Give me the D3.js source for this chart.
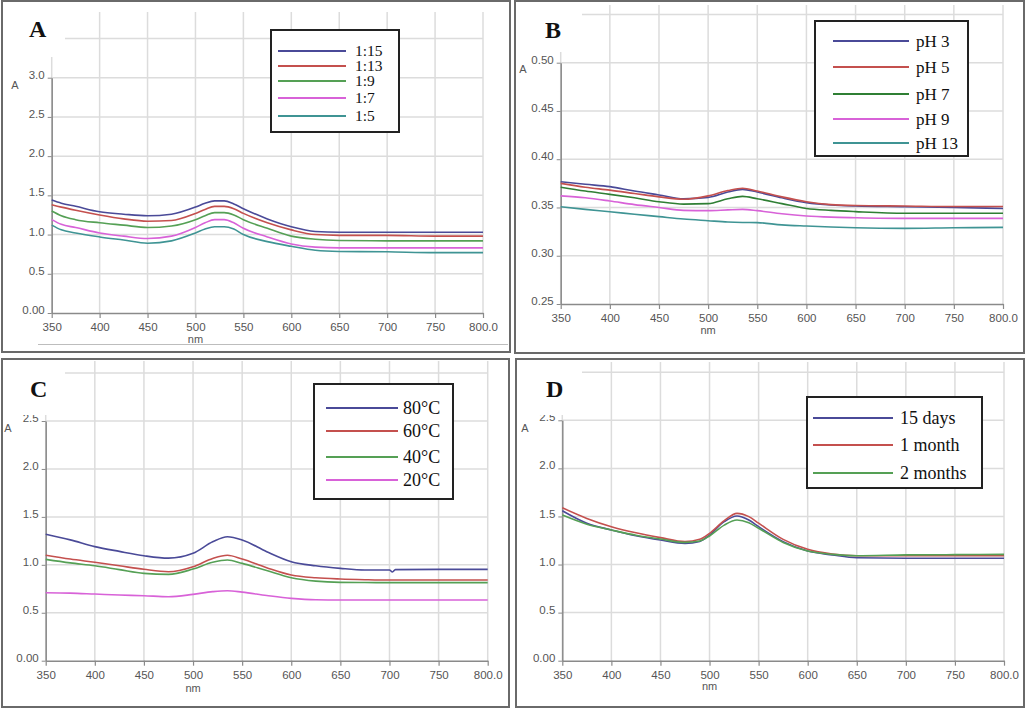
<!DOCTYPE html>
<html><head><meta charset="utf-8">
<script src="https://cdn.jsdelivr.net/npm/d3@7/dist/d3.min.js"></script>
<style>body{margin:0;background:#fff}svg{display:block}</style>
</head><body>
<svg id="chart" width="1028" height="709"></svg>
<script>
// ---------- shared tick data ----------
const xTicks = [350,400,450,500,550,600,650,700,750,800];
const xTickLabels = ["350","400","450","500","550","600","650","700","750","800.0"];

// ---------- Panel A ----------
const wlA = [350,360,375,400,425,450,475,500,510,520,530,540,550,575,600,625,650,700,750,800];
const namesA = ["1:15","1:13","1:9","1:7","1:5"];
const a115 = [1.44,1.40,1.36,1.29,1.26,1.24,1.26,1.35,1.40,1.43,1.43,1.39,1.33,1.20,1.10,1.04,1.03,1.03,1.03,1.03];
const a113 = [1.38,1.35,1.31,1.25,1.20,1.17,1.18,1.27,1.32,1.36,1.36,1.33,1.27,1.15,1.06,1.00,0.99,0.99,0.98,0.98];
const a19  = [1.30,1.24,1.19,1.15,1.12,1.09,1.11,1.19,1.24,1.28,1.28,1.25,1.19,1.08,0.98,0.94,0.925,0.92,0.92,0.92];
const a17  = [1.19,1.13,1.09,1.02,0.98,0.95,0.98,1.09,1.15,1.19,1.19,1.15,1.08,0.97,0.88,0.84,0.83,0.83,0.83,0.83];
const a15  = [1.12,1.06,1.02,0.97,0.93,0.89,0.92,1.02,1.07,1.10,1.10,1.07,1.00,0.91,0.85,0.80,0.785,0.78,0.77,0.77];
const yTicksA = [0,0.5,1.0,1.5,2.0,2.5,3.0];
const yTickLabelsA = ["0.00","0.5","1.0","1.5","2.0","2.5","3.0"];

// ---------- Panel B ----------
const wlB = [350,375,400,425,450,475,500,520,535,550,575,600,625,650,700,750,800];
const namesB = ["pH 3","pH 5","pH 7","pH 9","pH 13"];
const ph3  = [.3767,.374,.3716,.367,.363,.359,.3605,.366,.3688,.366,.360,.355,.3525,.3515,.3508,.350,.349];
const ph5  = [.375,.371,.368,.3645,.361,.3585,.362,.3675,.370,.367,.361,.356,.353,.352,.3515,.351,.351];
const ph7  = [.371,.367,.3636,.360,.356,.3535,.354,.359,.3615,.359,.354,.349,.347,.3457,.344,.344,.344];
const ph9  = [.362,.360,.3567,.353,.350,.347,.3467,.3475,.348,.3467,.3435,.3412,.340,.3394,.3387,.3387,.3387];
const ph13 = [.3508,.348,.3456,.343,.3405,.338,.3363,.335,.3345,.3343,.332,.3308,.3298,.329,.3284,.329,.3294];
const yTicksB = [0.25,0.30,0.35,0.40,0.45,0.50];
const yTickLabelsB = ["0.25","0.30","0.35","0.40","0.45","0.50"];

// ---------- Panel C ----------
const wlC = [350,375,400,425,450,475,500,520,535,550,575,600,625,650,675,700,703,706,750,800];
const namesC = ["80°C","60°C","40°C","20°C"];
const t80 = [1.318,1.26,1.19,1.14,1.095,1.07,1.12,1.24,1.293,1.26,1.137,1.033,0.99,0.963,0.946,0.946,0.925,0.95,0.953,0.953];
const t60 = [1.10,1.06,1.026,0.99,0.953,0.928,0.98,1.067,1.10,1.06,0.97,0.894,0.865,0.852,0.845,0.841,0.841,0.841,0.841,0.841];
const t40 = [1.057,1.02,0.99,0.95,0.911,0.90,0.956,1.026,1.05,1.015,0.94,0.866,0.83,0.817,0.815,0.814,0.814,0.814,0.814,0.814];
const t20 = [0.709,0.705,0.695,0.685,0.678,0.667,0.692,0.72,0.73,0.715,0.68,0.65,0.635,0.633,0.633,0.633,0.633,0.633,0.633,0.633];
const yTicksC = [0,0.5,1.0,1.5,2.0,2.5];
const yTickLabelsC = ["0.00","0.5","1.0","1.5","2.0","2.5"];

// ---------- Panel D ----------
const wlD = [350,375,400,425,450,475,490,500,515,528,540,550,575,600,625,650,700,750,800];
const namesD = ["15 days","1 month","2 months"];
const d15 = [1.56,1.43,1.36,1.30,1.255,1.22,1.24,1.307,1.446,1.505,1.463,1.394,1.238,1.14,1.10,1.07,1.065,1.065,1.065];
const d1m = [1.59,1.48,1.394,1.33,1.28,1.238,1.262,1.325,1.456,1.532,1.498,1.43,1.262,1.158,1.11,1.092,1.092,1.092,1.092];
const d2m = [1.515,1.42,1.36,1.305,1.265,1.23,1.245,1.297,1.41,1.463,1.435,1.377,1.23,1.14,1.106,1.092,1.10,1.103,1.106];
const yTicksD = [0,0.5,1.0,1.5,2.0,2.5];
const yTickLabelsD = ["0.00","0.5","1.0","1.5","2.0","2.5"];

// ---------- colours ----------
const cBlue="#4a4a98", cRed="#c4504e", cGreen="#55a055", cDkGreen="#2f7f34", cMag="#d862d8", cTeal="#3f9494";

const svg = d3.select("#chart");
const sans = "Liberation Sans, Arial, sans-serif";
const serif = "Liberation Serif, Times New Roman, serif";

function panel(o){
  const g = svg.append("g");
  g.append("rect").attr("x",o.box[0]).attr("y",o.box[1]).attr("width",o.box[2]-o.box[0]).attr("height",o.box[3]-o.box[1])
    .attr("fill","#fff").attr("stroke","#6a6a6a").attr("stroke-width",2);
  const x = d3.scaleLinear().domain([350,800]).range([o.x0,o.x1]);
  const y = d3.scaleLinear().domain(o.yDom).range(o.yRange);
  o.yGrid.forEach(v=>{
    g.append("line").attr("x1",o.x0).attr("x2",o.x1).attr("y1",y(v)).attr("y2",y(v))
      .attr("stroke","#dcdcdc").attr("stroke-width",1.5);
  });
  xTicks.forEach(v=>{
    g.append("line").attr("x1",x(v)).attr("x2",x(v)).attr("y1",o.gridTop).attr("y2",y(o.yDom[0]))
      .attr("stroke","#dcdcdc").attr("stroke-width",1.5);
  });
  const xa = g.append("g").attr("transform",`translate(0,${y(o.yDom[0])})`)
    .call(d3.axisBottom(x).tickValues(xTicks).tickFormat((d,i)=>xTickLabels[i]).tickSize(5).tickSizeOuter(0));
  xa.select(".domain").attr("stroke","#8a8a8a").attr("stroke-width",1.5);
  xa.selectAll(".tick line").attr("stroke","#8a8a8a").attr("stroke-width",1.2);
  xa.selectAll("text").attr("fill","#555").attr("font-family",sans).attr("font-size",11.5).attr("dy","0.9em");
  const ya = g.append("g").attr("transform",`translate(${o.x0},0)`)
    .call(d3.axisLeft(y).tickValues(o.yTicks).tickFormat((d,i)=>o.yTickLabels[i]).tickSize(4).tickSizeOuter(0));
  ya.select(".domain").attr("stroke","#8a8a8a").attr("stroke-width",1.5);
  ya.selectAll(".tick line").attr("stroke","#8a8a8a");
  ya.selectAll("text").attr("fill","#555").attr("font-family",sans).attr("font-size",11.5).attr("dy","0.05em");
  const line = d3.line().x(d=>x(d[0])).y(d=>y(d[1])).curve(d3.curveMonotoneX);
  o.series.forEach(s=>{
    g.append("path").datum(o.wl.map((w,i)=>[w,s.v[i]])).attr("d",line)
      .attr("fill","none").attr("stroke",s.c).attr("stroke-width",1.6);
  });
  g.append("rect").attr("x",o.mask[0]).attr("y",o.mask[1]).attr("width",o.mask[2]-o.mask[0]).attr("height",o.mask[3]-o.mask[1]).attr("fill","#fff");
  g.append("text").attr("x",o.letterPos[0]).attr("y",o.letterPos[1]).text(o.letter)
    .attr("font-family",serif).attr("font-weight","bold").attr("font-size",24).attr("fill","#111");
  g.append("text").attr("x",o.aPos[0]).attr("y",o.aPos[1]).text("A").attr("text-anchor","middle")
    .attr("font-family",sans).attr("font-size",11).attr("fill","#555");
  g.append("text").attr("x",x(500)).attr("y",o.nmY).text("nm").attr("text-anchor","middle")
    .attr("font-family",sans).attr("font-size",11).attr("fill","#555");
  const L = o.legend;
  g.append("rect").attr("x",L.box[0]).attr("y",L.box[1]).attr("width",L.box[2]-L.box[0]).attr("height",L.box[3]-L.box[1])
    .attr("fill","#fff").attr("stroke","#222").attr("stroke-width",2);
  o.series.forEach((s,i)=>{
    g.append("line").attr("x1",L.lx0).attr("x2",L.lx1).attr("y1",L.rows[i]).attr("y2",L.rows[i])
      .attr("stroke",s.c).attr("stroke-width",2);
    g.append("text").attr("x",L.tx).attr("y",L.rows[i]+L.dy).text(s.n)
      .attr("font-family",serif).attr("font-size",L.fs).attr("fill","#111");
  });
  return g;
}

// Panel A
panel({
  box:[2,1,510,352], x0:51.7, x1:483, yDom:[0,3.0], yRange:[313,77.7],
  yGrid:[0.5,1.0,1.5,2.0,2.5,3.0,3.5], gridTop:12,
  yTicks:yTicksA, yTickLabels:yTickLabelsA, wl:wlA,
  series:[{n:namesA[0],c:cBlue,v:a115},{n:namesA[1],c:cRed,v:a113},{n:namesA[2],c:cGreen,v:a19},{n:namesA[3],c:cMag,v:a17},{n:namesA[4],c:cTeal,v:a15}],
  mask:[3,2,65,57], letter:"A", letterPos:[29,37], aPos:[15,89], nmY:343,
  legend:{box:[271,30,399,132], lx0:278, lx1:346, tx:355, rows:[51,66,81,98,116], fs:15.5, dy:5}
});
svg.append("line").attr("x1",38).attr("x2",508).attr("y1",344.5).attr("y2",344.5).attr("stroke","#bdbdbd").attr("stroke-width",1);

// Panel B
panel({
  box:[515,1,1024,353], x0:560.7, x1:1003, yDom:[0.25,0.50], yRange:[304,62.7],
  yGrid:[0.30,0.35,0.40,0.45,0.50,0.55], gridTop:5,
  yTicks:yTicksB, yTickLabels:yTickLabelsB, wl:wlB,
  series:[{n:namesB[0],c:cBlue,v:ph3},{n:namesB[1],c:cRed,v:ph5},{n:namesB[2],c:cDkGreen,v:ph7},{n:namesB[3],c:cMag,v:ph9},{n:namesB[4],c:cTeal,v:ph13}],
  mask:[516,2,582,52], letter:"B", letterPos:[545,38], aPos:[523,73], nmY:334,
  legend:{box:[815,21,968,156], lx0:833, lx1:909, tx:916, rows:[41,67,94,119,143], fs:17, dy:5.5}
});

// Panel C
panel({
  box:[2,359,509,707], x0:45.7, x1:487.7, yDom:[0,2.5], yRange:[660.7,421],
  yGrid:[0.5,1.0,1.5,2.0,2.5,3.0], gridTop:361,
  yTicks:yTicksC, yTickLabels:yTickLabelsC, wl:wlC,
  series:[{n:namesC[0],c:cBlue,v:t80},{n:namesC[1],c:cRed,v:t60},{n:namesC[2],c:cGreen,v:t40},{n:namesC[3],c:cMag,v:t20}],
  mask:[3,360,65,415], letter:"C", letterPos:[30,397], aPos:[8,432], nmY:692,
  legend:{box:[314,384,453,499], lx0:326, lx1:398, tx:403, rows:[408,431,457,480], fs:18, dy:6}
});

// Panel D
panel({
  box:[516,359,1024,707], x0:562.3, x1:1004, yDom:[0,2.5], yRange:[660.7,420.3],
  yGrid:[0.5,1.0,1.5,2.0,2.5,3.0], gridTop:362,
  yTicks:yTicksD, yTickLabels:yTickLabelsD, wl:wlD,
  series:[{n:namesD[0],c:cBlue,v:d15},{n:namesD[1],c:cRed,v:d1m},{n:namesD[2],c:cGreen,v:d2m}],
  mask:[517,360,582,415], letter:"D", letterPos:[546,397], aPos:[525,432], nmY:690,
  legend:{box:[807,397,982,488], lx0:813, lx1:893, tx:900, rows:[418,445,473], fs:18, dy:6}
});
</script>
</body></html>
